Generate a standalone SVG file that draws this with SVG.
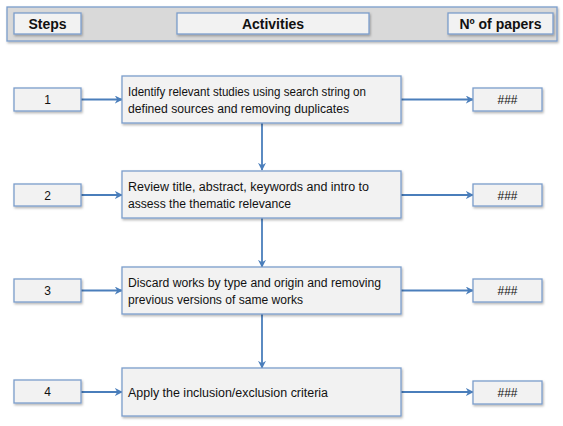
<svg xmlns="http://www.w3.org/2000/svg" width="563" height="426" viewBox="0 0 563 426">
<defs>
<filter id="sh" x="-10%" y="-10%" width="130%" height="140%">
<feDropShadow dx="1" dy="1.5" stdDeviation="1" flood-color="#000" flood-opacity="0.3"/>
</filter>
<marker id="ah" viewBox="0 0 10 10" refX="9" refY="5" markerWidth="8" markerHeight="8" markerUnits="userSpaceOnUse" orient="auto">
<path d="M0,0 L10,5 L0,10 L3,5 Z" fill="#4a7ebb"/>
</marker>
<style>
.box{fill:#f2f2f2;stroke:#7b9dcb;stroke-width:1.3;filter:url(#sh)}
.hdr{fill:#d9d9d9;stroke:#7b9dcb;stroke-width:1.3;filter:url(#sh)}
.h{font-family:"Liberation Sans",Arial,sans-serif;font-weight:bold;font-size:14px;fill:#111;text-anchor:middle}
.t{font-family:"Liberation Sans",Arial,sans-serif;font-size:12.5px;fill:#111}
.c{font-family:"Liberation Sans",Arial,sans-serif;font-size:12px;fill:#111;text-anchor:middle}
.cn{fill:none;stroke:#4a7ebb;stroke-width:1.8;marker-end:url(#ah)}
</style>
</defs>
<rect width="563" height="426" fill="#fff"/>
<g id="header">
<rect class="hdr" x="7" y="7" width="550" height="34"/>
<rect class="box" x="14" y="13" width="67" height="21"/>
<text class="h" x="47.5" y="28.5">Steps</text>
<rect class="box" x="177" y="13" width="192" height="21"/>
<text class="h" x="273" y="28.5">Activities</text>
<rect class="box" x="448" y="13" width="105" height="21"/>
<text class="h" x="500.5" y="28.5">Nº of papers</text>
</g>
<g id="connectors">
<line class="cn" x1="81" y1="99.5" x2="122" y2="99.5"/>
<line class="cn" x1="401" y1="99.5" x2="473" y2="99.5"/>
<line class="cn" x1="262" y1="123" x2="262" y2="170"/>
<line class="cn" x1="81" y1="195" x2="122" y2="195"/>
<line class="cn" x1="401" y1="195" x2="473" y2="195"/>
<line class="cn" x1="262" y1="218" x2="262" y2="267"/>
<line class="cn" x1="81" y1="290.5" x2="122" y2="290.5"/>
<line class="cn" x1="401" y1="290.5" x2="473" y2="290.5"/>
<line class="cn" x1="262" y1="314" x2="262" y2="368"/>
<line class="cn" x1="81" y1="392" x2="122" y2="392"/>
<line class="cn" x1="401" y1="392" x2="473" y2="392"/>
</g>
<g id="step1">
<rect class="box" x="14" y="88" width="67" height="23"/>
<text class="c" x="47.5" y="104">1</text>
</g>
<g id="step2">
<rect class="box" x="14" y="184" width="67" height="22"/>
<text class="c" x="47.5" y="199.5">2</text>
</g>
<g id="step3">
<rect class="box" x="14" y="279" width="67" height="23"/>
<text class="c" x="47.5" y="295">3</text>
</g>
<g id="step4">
<rect class="box" x="14" y="380" width="67" height="23"/>
<text class="c" x="47.5" y="396">4</text>
</g>
<g id="act1">
<rect class="box" x="122" y="76" width="279" height="47"/>
<text class="t" x="128" y="95.5" textLength="238" lengthAdjust="spacingAndGlyphs">Identify relevant studies using search string on</text>
<text class="t" x="128" y="112.5" textLength="221" lengthAdjust="spacingAndGlyphs">defined sources and removing duplicates</text>
</g>
<g id="act2">
<rect class="box" x="122" y="171" width="279" height="47"/>
<text class="t" x="128" y="190.5" textLength="241" lengthAdjust="spacingAndGlyphs">Review title, abstract, keywords and intro to</text>
<text class="t" x="128" y="207.5" textLength="163" lengthAdjust="spacingAndGlyphs">assess the thematic relevance</text>
</g>
<g id="act3">
<rect class="box" x="122" y="267" width="279" height="47"/>
<text class="t" x="128" y="286.5" textLength="253" lengthAdjust="spacingAndGlyphs">Discard works by type and origin and removing</text>
<text class="t" x="128" y="303.5" textLength="175" lengthAdjust="spacingAndGlyphs">previous versions of same works</text>
</g>
<g id="act4">
<rect class="box" x="122" y="368" width="279" height="48"/>
<text class="t" x="128" y="396.5" textLength="200" lengthAdjust="spacingAndGlyphs">Apply the inclusion/exclusion criteria</text>
</g>
<g id="n1">
<rect class="box" x="473" y="88" width="69" height="23"/>
<text class="c" x="507.5" y="104">###</text>
</g>
<g id="n2">
<rect class="box" x="473" y="184" width="69" height="22"/>
<text class="c" x="507.5" y="199.5">###</text>
</g>
<g id="n3">
<rect class="box" x="473" y="279" width="69" height="23"/>
<text class="c" x="507.5" y="295">###</text>
</g>
<g id="n4">
<rect class="box" x="473" y="381" width="69" height="23"/>
<text class="c" x="507.5" y="397">###</text>
</g>
</svg>
